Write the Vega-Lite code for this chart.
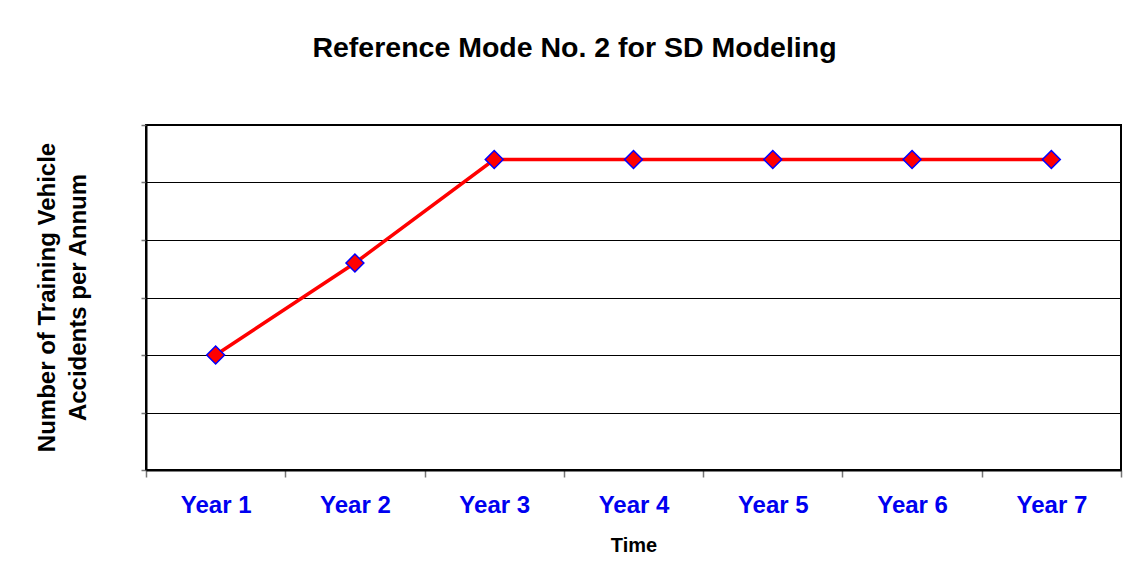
{
  "$schema": "https://vega.github.io/schema/vega-lite/v6.json",
  "autosize": "none",
  "width": 975,
  "height": 345,
  "padding": {"left": 146, "top": 125, "right": 8, "bottom": 108},
  "background": "white",
  "config": {
    "font": "Liberation Sans",
    "view": {"stroke": "black", "strokeWidth": 2}
  },
  "title": {
    "text": "Reference Mode No. 2 for SD Modeling",
    "fontSize": 28.5,
    "fontWeight": "bold",
    "color": "black",
    "anchor": "middle",
    "dx": -59,
    "offset": 62
  },
  "data": {
    "values": [
      {"year": "Year 1", "value": 2.0},
      {"year": "Year 2", "value": 3.6},
      {"year": "Year 3", "value": 5.4},
      {"year": "Year 4", "value": 5.4},
      {"year": "Year 5", "value": 5.4},
      {"year": "Year 6", "value": 5.4},
      {"year": "Year 7", "value": 5.4}
    ]
  },
  "encoding": {
    "x": {
      "field": "year",
      "type": "ordinal",
      "sort": null,
      "scale": {"type": "band", "paddingInner": 0, "paddingOuter": 0},
      "axis": {
        "title": "Time",
        "titleFontSize": 20,
        "titleFontWeight": "bold",
        "titleColor": "black",
        "titlePadding": 18,
        "labelAngle": 0,
        "labelFontSize": 24,
        "labelFontWeight": "bold",
        "labelColor": "#0000F0",
        "labelPadding": 16,
        "tickBand": "extent",
        "tickColor": "#777777",
        "tickSize": 7,
        "tickWidth": 1.5,
        "domainColor": "black",
        "domainWidth": 2,
        "grid": false
      }
    },
    "y": {
      "field": "value",
      "type": "quantitative",
      "scale": {"domain": [0, 6], "nice": false, "zero": true},
      "axis": {
        "title": ["Number of Training Vehicle", "Accidents per Annum"],
        "titleFontSize": 24,
        "titleFontWeight": "bold",
        "titleColor": "black",
        "titleAngle": -90,
        "titleAlign": "center",
        "titleBaseline": "middle",
        "titleLineHeight": 31,
        "titleX": -99,
        "titleY": 172,
        "values": [0, 1, 2, 3, 4, 5, 6],
        "labels": false,
        "tickColor": "#777777",
        "tickSize": 5,
        "tickWidth": 1.5,
        "domainColor": "black",
        "domainWidth": 2,
        "grid": true,
        "gridColor": "black",
        "gridWidth": 1,
        "gridOpacity": 1
      }
    }
  },
  "layer": [
    {"mark": {"type": "line", "color": "#FF0000", "strokeWidth": 3.5}},
    {"mark": {"type": "point", "shape": "diamond", "filled": true, "fill": "#FF0000", "stroke": "#0000FF", "strokeWidth": 1.5, "size": 320, "opacity": 1}}
  ]
}
